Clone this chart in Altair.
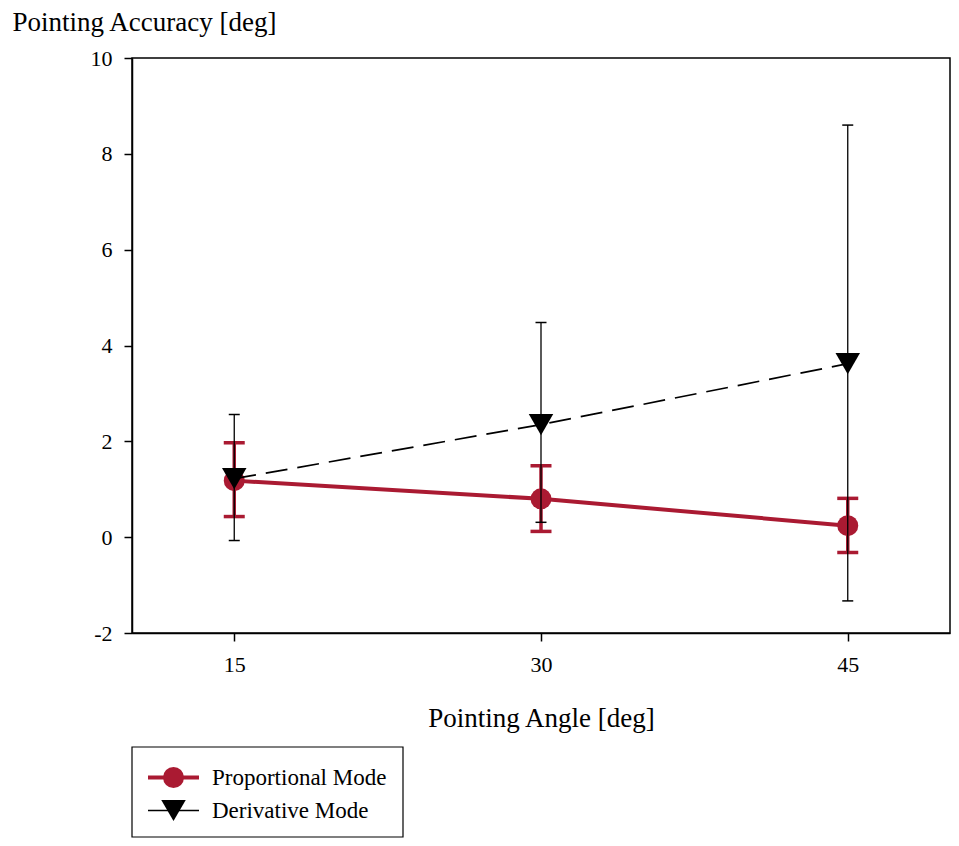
import altair as alt
import pandas as pd

angles = [15, 30, 45]
prop_mean = [1.18, 0.80, 0.24]
prop_lo = [0.43, 0.12, -0.32]
prop_hi = [1.97, 1.49, 0.81]
deriv_mean = [1.22, 2.35, 3.62]
deriv_lo = [-0.07, 0.31, -1.33]
deriv_hi = [2.56, 4.48, 8.60]
legend_labels = ["Proportional Mode", "Derivative Mode"]
x_ticks = [15, 30, 45]
y_ticks = [-2, 0, 2, 4, 6, 8, 10]
x_title = "Pointing Angle [deg]"
y_title = "Pointing Accuracy [deg]"

RED = "#AA1A32"
FONT = "Liberation Serif"
LABEL_SIZE = 22

prop = pd.DataFrame({"angle": angles, "mean": prop_mean, "lo": prop_lo, "hi": prop_hi})
deriv = pd.DataFrame({"angle": angles, "mean": deriv_mean, "lo": deriv_lo, "hi": deriv_hi})

xscale = alt.Scale(domain=[10, 50], nice=False, zero=False)
yscale = alt.Scale(domain=[-2, 10], nice=False, zero=False)
xaxis = alt.Axis(values=x_ticks, title=x_title, grid=False, labelPadding=13,
                 labelFontSize=LABEL_SIZE, titleFontSize=27,
                 titleY=85, titleBaseline="middle")
yaxis = alt.Axis(values=y_ticks, title=y_title, grid=False, labelPadding=12,
                 labelFontSize=LABEL_SIZE, titleFontSize=27,
                 labelExpr="datum.value + ''",
                 titleAngle=0, titleX=-120, titleY=-36, titleAlign="left",
                 titleBaseline="middle")

X = alt.X("angle:Q", scale=xscale, axis=xaxis)


def Y(f):
    return alt.Y(f, scale=yscale, axis=yaxis)


p_base = alt.Chart(prop)
d_base = alt.Chart(deriv)

p_line = p_base.mark_line(color=RED, strokeWidth=4).encode(x=X, y=Y("mean:Q"))
p_rule = p_base.mark_rule(color=RED, strokeWidth=3.5).encode(x=X, y=Y("lo:Q"), y2="hi:Q")
p_cap_hi = p_base.mark_tick(color=RED, orient="horizontal", size=21, thickness=3.5, opacity=1).encode(x=X, y=Y("hi:Q"))
p_cap_lo = p_base.mark_tick(color=RED, orient="horizontal", size=21, thickness=3.5, opacity=1).encode(x=X, y=Y("lo:Q"))
p_pts = p_base.mark_point(shape="circle", filled=True, color=RED, size=441, opacity=1).encode(x=X, y=Y("mean:Q"))

d_line = d_base.mark_line(color="black", strokeWidth=1.7, strokeDash=[22, 10]).encode(x=X, y=Y("mean:Q"))
d_rule = d_base.mark_rule(color="black", strokeWidth=1.3).encode(x=X, y=Y("lo:Q"), y2="hi:Q")
d_cap_hi = d_base.mark_tick(color="black", orient="horizontal", size=11, thickness=1.5, opacity=1).encode(x=X, y=Y("hi:Q"))
d_cap_lo = d_base.mark_tick(color="black", orient="horizontal", size=11, thickness=1.5, opacity=1).encode(x=X, y=Y("lo:Q"))
d_pts = d_base.mark_point(shape="triangle-down", filled=True, color="black", size=600, opacity=1).encode(x=X, y=Y("mean:Q"))

# legend (drawn in pixel space below the plot)
one = alt.Data(values=[{"k": 0}])
leg_box = alt.Chart(one).mark_rect(fill="white", stroke="black", strokeWidth=1.2).encode(
    x=alt.value(0), x2=alt.value(271), y=alt.value(689), y2=alt.value(779))
l1 = pd.DataFrame({"label": [legend_labels[0]]})
l2 = pd.DataFrame({"label": [legend_labels[1]]})
leg1_line = alt.Chart(l1).mark_rule(color=RED, strokeWidth=4).encode(
    x=alt.value(16), x2=alt.value(67), y=alt.value(719.5))
leg1_pt = alt.Chart(l1).mark_point(shape="circle", filled=True, color=RED, size=441, opacity=1).encode(
    x=alt.value(41.5), y=alt.value(719.5))
leg1_txt = alt.Chart(l1).mark_text(font=FONT, fontSize=23, align="left", baseline="middle", color="black").encode(
    x=alt.value(80), y=alt.value(720), text="label:N")
leg2_line = alt.Chart(l2).mark_rule(color="black", strokeWidth=1.5).encode(
    x=alt.value(16), x2=alt.value(67), y=alt.value(752.5))
leg2_pt = alt.Chart(l2).mark_point(shape="triangle-down", filled=True, color="black", size=600, opacity=1).encode(
    x=alt.value(41.5), y=alt.value(752.5))
leg2_txt = alt.Chart(l2).mark_text(font=FONT, fontSize=23, align="left", baseline="middle", color="black").encode(
    x=alt.value(80), y=alt.value(753), text="label:N")

chart = alt.layer(
    p_line, p_rule, p_cap_hi, p_cap_lo, p_pts,
    d_line, d_rule, d_cap_hi, d_cap_lo, d_pts,
    leg_box, leg1_line, leg1_pt, leg1_txt, leg2_line, leg2_pt, leg2_txt,
).properties(
    width=818, height=575,
    autosize=alt.AutoSizeParams(type="none"),
    padding={"left": 124, "top": 50, "right": 1, "bottom": 205},
    background="white",
).configure_view(
    stroke="black", strokeWidth=1.5
).configure_axis(
    domainColor="black", domainWidth=1.5, tickColor="black", tickWidth=1.5, tickSize=8,
    labelFont=FONT, labelFontSize=LABEL_SIZE, labelColor="black",
    titleFont=FONT, titleFontSize=27, titleColor="black", titleFontWeight="normal",
)

chart.save("out.html", embed_options={"renderer": "svg", "actions": False})
